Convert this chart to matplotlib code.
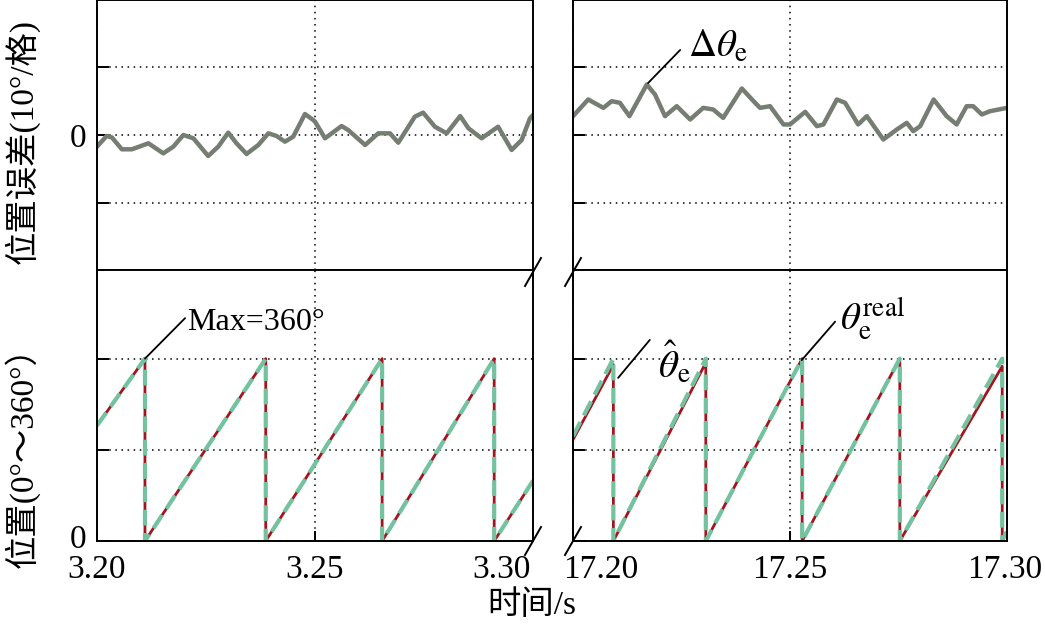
import matplotlib
matplotlib.use("Agg")
import matplotlib.pyplot as plt
from matplotlib.lines import Line2D
from matplotlib.transforms import ScaledTranslation

plt.rcParams['font.family'] = ['Liberation Serif', 'Noto Sans CJK SC']
plt.rcParams['mathtext.fontset'] = 'stix'

# ---- data ----
# position error (degrees), low-speed window
t_err_l = [3.2000, 3.2022, 3.2034, 3.2057, 3.2080, 3.2118, 3.2152, 3.2175, 3.2198,
           3.2221, 3.2255, 3.2278, 3.2301, 3.2320, 3.2343, 3.2370, 3.2393, 3.2412,
           3.2431, 3.2450, 3.2477, 3.2496, 3.2500, 3.2523, 3.2561, 3.2576, 3.2615,
           3.2645, 3.2672, 3.2691, 3.2729, 3.2748, 3.2775, 3.2802, 3.2833, 3.2852,
           3.2882, 3.2920, 3.2951, 3.2974, 3.2993, 3.3000]
err_l = [-1.73, -0.15, -0.35, -2.12, -2.12, -1.23, -2.72, -1.73, 0.0,
         -0.49, -3.11, -1.73, 0.35, -1.23, -2.81, -1.48, 0.25, -0.15,
         -0.99, -0.25, 3.11, 2.22, 1.98, -0.49, 1.33, 0.74, -1.48,
         0.25, 0.25, -1.14, 2.72, 3.31, 1.23, 0.25, 2.81, 0.99,
         -0.49, 1.23, -2.22, -0.74, 2.47, 2.96]

# position error (degrees), high-speed window
t_err_r = [17.2000, 17.2035, 17.2070, 17.2089, 17.2108, 17.2130, 17.2170, 17.2189,
           17.2212, 17.2239, 17.2270, 17.2300, 17.2323, 17.2346, 17.2389, 17.2416,
           17.2431, 17.2454, 17.2485, 17.2500, 17.2535, 17.2562, 17.2577, 17.2608,
           17.2627, 17.2657, 17.2677, 17.2715, 17.2746, 17.2769, 17.2784, 17.2800,
           17.2831, 17.2861, 17.2884, 17.2907, 17.2922, 17.2942, 17.2961, 17.3000]
err_r = [2.79, 5.26, 4.02, 5.01, 4.77, 2.79, 7.48, 6.00,
         2.79, 4.27, 2.30, 4.02, 3.78, 2.54, 6.89, 5.01,
         4.02, 4.27, 1.56, 1.56, 3.43, 1.31, 1.56, 5.26,
         4.77, 1.56, 2.79, -0.67, 0.81, 1.80, 0.57, 1.31,
         5.26, 2.79, 1.56, 4.27, 4.27, 3.04, 3.53, 4.02]

# electrical angle (degrees), sawtooth vertices
t_pos_l = [3.2000, 3.2110, 3.2110, 3.2387, 3.2387, 3.2654, 3.2654, 3.2911, 3.2911, 3.3000]
th_real_l = [228, 360, 0, 360, 0, 360, 0, 360, 0, 119]
th_est_l = [228, 360, 0, 360, 0, 360, 0, 360, 0, 119]

t_pos_r = [17.2000, 17.2093, 17.2093, 17.2306, 17.2306, 17.2528, 17.2528,
           17.2753, 17.2753, 17.2989, 17.2989, 17.3000]
th_real_r = [207, 360, 0, 360, 0, 360, 0, 360, 0, 360, 0, 20]
th_est_r = [200, 348, 0, 352, 0, 360, 0, 360, 0, 345, 0, 18]

xticks_l = [3.20, 3.25, 3.30]
xticks_r = [17.20, 17.25, 17.30]
xlabels_l = ['3.20', '3.25', '3.30']
xlabels_r = ['17.20', '17.25', '17.30']

c_err = '#767d73'
c_est = '#a3141f'
c_real = '#74c3a0'
W, H = 1045, 632

fig = plt.figure(figsize=(W / 100, H / 100), dpi=100)


def fx(px):
    return px / W


def fy(py):
    return 1 - py / H


ax_tl = fig.add_axes([fx(97), fy(270), fx(533 - 97), 270 / H])
ax_tr = fig.add_axes([fx(573), fy(270), fx(1007 - 573), 270 / H])
ax_bl = fig.add_axes([fx(97), fy(541), fx(533 - 97), 271 / H])
ax_br = fig.add_axes([fx(573), fy(541), fx(1007 - 573), 271 / H])

ax_tl.plot(t_err_l, err_l, color=c_err, lw=3.2, solid_joinstyle='round')
ax_tr.plot(t_err_r, err_r, color=c_err, lw=3.2, solid_joinstyle='round')

for ax, t, est, real in [(ax_bl, t_pos_l, th_est_l, th_real_l),
                         (ax_br, t_pos_r, th_est_r, th_real_r)]:
    ax.plot(t, est, color=c_est, lw=2.0)
    ax.plot(t, real, color=c_real, lw=3.0, dashes=[3.8, 1.8])

for ax, xt in [(ax_tl, xticks_l), (ax_tr, xticks_r), (ax_bl, xticks_l), (ax_br, xticks_r)]:
    ax.set_xlim(xt[0], xt[-1])
    ax.set_xticks(xt)
    ax.grid(True, color='black', lw=1.1, linestyle=(0, (1, 3)))
    for s in ax.spines.values():
        s.set_linewidth(1.4)
    ax.tick_params(direction='in', width=1.4, length=8.5, right=False, top=False,
                   labelsize=24, pad=8)
    ax.tick_params(axis='x', length=7, pad=10)

for ax in (ax_tl, ax_tr):
    ax.set_ylim(-20, 20)
    ax.set_yticks([-10, 0, 10])
    ax.set_yticklabels(['', '0', ''])
    ax.tick_params(axis='x', length=0, labelbottom=False)

for ax in (ax_bl, ax_br):
    ax.set_ylim(0, 535)
    ax.set_yticks([0, 180, 360])
    ax.set_yticklabels(['0', '', ''])

ax_tr.tick_params(axis='y', labelleft=False)
ax_br.tick_params(axis='y', labelleft=False)

lbl = ax_bl.get_yticklabels()[0]
lbl.set_transform(lbl.get_transform() + ScaledTranslation(0, 0.05, fig.dpi_scale_trans))

ax_bl.set_xticklabels(xlabels_l)
ax_br.set_xticklabels(xlabels_r)
lbl = ax_bl.get_xticklabels()[-1]
lbl.set_horizontalalignment('right')
lbl.set_transform(lbl.get_transform() + ScaledTranslation(-0.02, 0, fig.dpi_scale_trans))
lbl = ax_br.get_xticklabels()[0]
lbl.set_horizontalalignment('left')
lbl.set_transform(lbl.get_transform() + ScaledTranslation(-0.10, 0, fig.dpi_scale_trans))
lbl = ax_br.get_xticklabels()[-1]
lbl.set_transform(lbl.get_transform() + ScaledTranslation(-0.02, 0, fig.dpi_scale_trans))

# annotations
lk = dict(arrowstyle='-', color='black', lw=1.3, shrinkA=0, shrinkB=0)
ax_bl.annotate('', xy=(3.2110, 360), xytext=(3.2202, 440), arrowprops=lk)
ax_bl.text(3.2206, 432, 'Max=360°', fontsize=23, ha='left', va='center')

ax_tr.annotate('', xy=(17.2173, 7.7), xytext=(17.2247, 12.6), arrowprops=lk)
ax_tr.text(17.2266, 13.0, r'$\Delta\theta_{\rm e}$', fontsize=28, ha='left', va='center')

ax_br.annotate('', xy=(17.2104, 322), xytext=(17.2177, 397), arrowprops=lk)
ax_br.text(17.2196, 350, r'$\hat{\theta}_{\rm e}$', fontsize=28, ha='left', va='center')

ax_br.annotate('', xy=(17.2527, 357), xytext=(17.2604, 433), arrowprops=lk)
ax_br.text(17.2616, 438, r'$\theta_{\rm e}^{\rm real}$', fontsize=28, ha='left', va='center')

# axis break marks
for cx, cy in [(533, 272), (573, 272), (533, 541), (573, 541)]:
    fig.add_artist(Line2D([fx(cx - 8), fx(cx + 8)], [fy(cy + 14), fy(cy - 14)],
                          color='black', lw=1.4))

# axis titles
fig.text(fx(22), fy(264), '位置误差(10°/格)', rotation=90, ha='center', va='bottom',
         fontsize=24)
fig.text(fx(22), fy(568), '位置(0°～360°）', rotation=90, ha='center', va='bottom',
         fontsize=24)
fig.text(fx(532), fy(606), '时间/s', ha='center', va='center', fontsize=24)

fig.savefig('out.png', dpi=100)
